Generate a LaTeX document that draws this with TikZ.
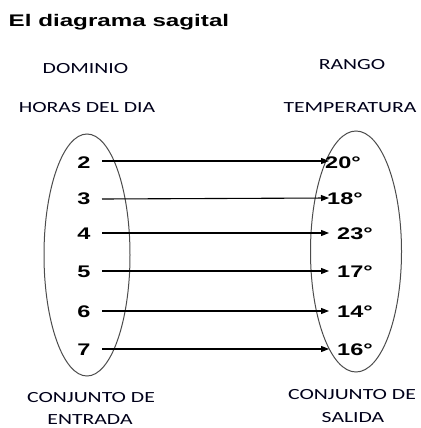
\documentclass[tikz,border=0pt]{standalone}
\usepackage{fontspec}
\usetikzlibrary{shapes.geometric,arrows.meta}
\setmainfont[FakeStretch=1.4]{Carlito}
\newfontfamily\titlefont[FakeStretch=1.44]{Liberation Sans}
\newfontfamily\numfont[FakeStretch=1.4]{Liberation Sans}
\begin{document}
\begin{tikzpicture}[x=1pt,y=-1pt,
  lbl/.style={anchor=base,inner sep=0pt,font=\fontsize{15.5}{18}\selectfont,text=black!90!blue},
  num/.style={anchor=base,inner sep=0pt,font=\numfont\bfseries\fontsize{16.8}{19}\selectfont},
  val/.style={anchor=base west,inner sep=0pt,font=\numfont\bfseries\fontsize{16.8}{19}\selectfont},
  setline/.style={draw=black!70,line width=1pt},
  arr/.style={line width=1.1pt,-{Triangle[length=8pt,width=6pt]}}]
\useasboundingbox (0,0) rectangle (420,428);
\node[anchor=base west,inner sep=0pt,font=\titlefont\bfseries\fontsize{16.8}{19}\selectfont] (title) at (8.5,27) {El diagrama sagital};
\node[lbl] (dominio) at (85.5,74) {DOMINIO};
\node[lbl] (horas) at (87,112) {HORAS DEL DIA};
\node[lbl] (rango) at (352,70) {RANGO};
\node[lbl] (temp) at (350,112) {TEMPERATURA};
\node[lbl] (conj1) at (91,402) {CONJUNTO DE};
\node[lbl] (entrada) at (90,424) {ENTRADA};
\node[lbl] (conj2) at (352,399) {CONJUNTO DE};
\node[lbl] (salida) at (353,422) {SALIDA};
\coordinate (dom) at (87,255);
\coordinate (ran) at (356,251.5);
\draw[setline] (dom) ellipse [x radius=43pt, y radius=121pt];
\draw[setline] (ran) ellipse [x radius=45.5pt, y radius=120.5pt];
\node[num] (n2) at (84,168) {2};
\node[num] (n3) at (84,204) {3};
\node[num] (n4) at (84,239) {4};
\node[num] (n5) at (84,277) {5};
\node[num] (n6) at (84,317) {6};
\node[num] (n7) at (84,355) {7};
\node[val] (v20) at (325,168) {20°};
\node[val] (v18) at (327,204) {18°};
\node[val] (v23) at (337,239) {23°};
\node[val] (v17) at (337,277) {17°};
\node[val] (v14) at (337,317) {14°};
\node[val] (v16) at (337,355) {16°};
\foreach \k/\y/\z in {2/161/161,3/199/198,4/233/233,5/271/271,6/311/311,7/349/349}{
  \coordinate (s\k) at (102,\y);
  \coordinate (e\k) at (329,\z);
}
\draw[arr] (s2) -- (e2);
\draw[arr] (s3) -- (e3);
\draw[arr] (s4) -- (e4);
\draw[arr] (s5) -- (e5);
\draw[arr] (s6) -- (e6);
\draw[arr] (s7) -- (e7);
\end{tikzpicture}
\end{document}
